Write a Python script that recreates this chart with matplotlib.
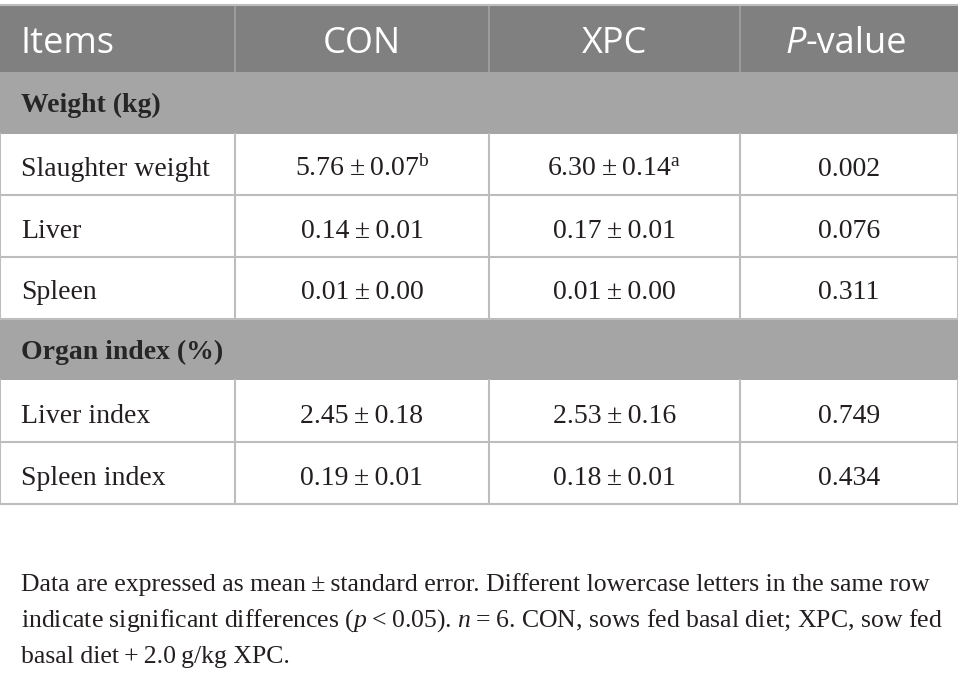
import matplotlib.pyplot as plt

plt.rcParams['mathtext.fontset'] = 'custom'
plt.rcParams['mathtext.rm'] = 'Liberation Serif'
plt.rcParams['mathtext.it'] = 'Liberation Serif:italic'

# table content
headers = ['Items', 'CON', 'XPC', 'P-value']
sections = ['Weight (kg)', 'Organ index (%)']
items = [['Slaughter weight', 'Liver', 'Spleen'],
         ['Liver index', 'Spleen index']]
con_vals = [['5.76\u2009±\u20090.07$^{\\mathrm{b}}$', '0.14\u2009±\u20090.01', '0.01\u2009±\u20090.00'],
            ['2.45\u2009±\u20090.18', '0.19\u2009±\u20090.01']]
xpc_vals = [['6.30\u2009±\u20090.14$^{\\mathrm{a}}$', '0.17\u2009±\u20090.01', '0.01\u2009±\u20090.00'],
            ['2.53\u2009±\u20090.16', '0.18\u2009±\u20090.01']]
p_vals = [['0.002', '0.076', '0.311'],
          ['0.749', '0.434']]
footnote = ['Data are expressed as mean\u2009±\u2009standard error. Different lowercase letters in the same row',
            'indicate significant differences ($\\mathit{p}$\u2009<\u20090.05). $\\mathit{n}$\u2009=\u20096. CON, sows fed basal diet; XPC, sow fed',
            'basal diet\u2009+\u20092.0\u2009g/kg XPC.']

W, H = 958, 680
fig = plt.figure(figsize=(W / 100, H / 100), dpi=100)
ax = fig.add_axes([0, 0, 1, 1])
ax.set_xlim(0, W)
ax.set_ylim(H, 0)
ax.axis('off')

col_x = [0, 235, 489, 740, W]
head_top, head_bot = 5, 72
row_h = 61.7
grid_c = '#bdbdbd'
text_c = '#231f20'
serif = 'Liberation Serif'
sans = 'Open Sans'

# header
ax.add_patch(plt.Rectangle((0, head_top), W, head_bot - head_top, color='#808080', lw=0))
for x in col_x[1:-1]:
    ax.plot([x, x], [head_top, head_bot], color='#a2a2a2', lw=1.2)
hy = 53
ax.text(21, hy, headers[0], color='white', fontsize=26, family=sans, ha='left', va='baseline')
for i in (1, 2):
    ax.text((col_x[i] + col_x[i + 1]) / 2, hy, headers[i], color='white', fontsize=26,
            family=sans, ha='center', va='baseline')
ax.text(806, hy, 'P', color='white', fontsize=26, family=sans, style='italic', ha='right', va='baseline')
ax.text(806, hy, '-value', color='white', fontsize=26, family=sans, ha='left', va='baseline')

y = head_bot
for s, sec in enumerate(sections):
    # section row
    ax.add_patch(plt.Rectangle((0, y), W, row_h, color='#a4a5a4', lw=0))
    ax.text(21, y + row_h / 2 + 9, sec, color='#262626', fontsize=20, family=serif,
            weight='bold', ha='left', va='baseline')
    y += row_h
    for r in range(len(items[s])):
        by = y + row_h / 2 + 11.5
        ax.text(21, by, items[s][r], color=text_c, fontsize=20, family=serif, ha='left', va='baseline')
        for i, vals in ((1, con_vals), (2, xpc_vals), (3, p_vals)):
            ax.text((col_x[i] + col_x[i + 1]) / 2, by, vals[s][r], color=text_c, fontsize=20,
                    family=serif, ha='center', va='baseline')
        for x in col_x:
            ax.plot([x, x], [y, y + row_h], color=grid_c, lw=1.5)
        ax.plot([0, W], [y + row_h, y + row_h], color=grid_c, lw=1.5)
        y += row_h

ax.plot([0, W], [head_top, head_top], color=grid_c, lw=1.5)

# footnote
for k, line in enumerate(footnote):
    ax.text(21, 591 + k * 36, line, color=text_c, fontsize=18.5, family=serif, ha='left', va='baseline')

fig.savefig('out.png', dpi=100)
